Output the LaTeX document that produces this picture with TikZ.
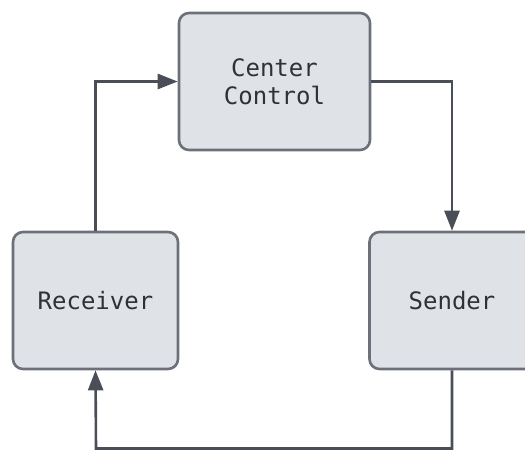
\documentclass[tikz,border=0pt]{standalone}
\usepackage{fontspec}
\setmonofont{DejaVu Sans Mono}
\usetikzlibrary{arrows.meta}
\definecolor{boxfill}{HTML}{DFE2E7}
\definecolor{boxline}{HTML}{6B7079}
\definecolor{connline}{HTML}{4A4F57}
\definecolor{txt}{HTML}{2E3136}
\begin{document}
\begin{tikzpicture}[x=1pt,y=-1pt,
  box/.style={draw=boxline, fill=boxfill, line width=2.6pt, rounded corners=10pt,
    minimum width=165pt, minimum height=137pt, align=center, text=txt,
    font=\ttfamily\fontsize{24}{28}\selectfont, inner sep=0pt},
  conn/.style={draw=connline, line width=2.6pt, -{Triangle[length=20pt,width=15pt]}}]
\useasboundingbox (0,0) rectangle (525,451);
\clip (0,0) rectangle (525,451);
\node[box, minimum width=191pt] (cc) at (274.5,81.5) {Center\\Control};
\node[box] (rec) at (95.5,300.5) {Receiver};
\node[box] (snd) at (452,300.5) {Sender};
\coordinate (bot) at (96,448.5);
\draw[conn] (rec.north) |- (cc.west);
\draw[conn] (cc.east) -| (snd.north);
\draw[conn] (snd.south) |- (bot) -- (rec.south);
\end{tikzpicture}
\end{document}
